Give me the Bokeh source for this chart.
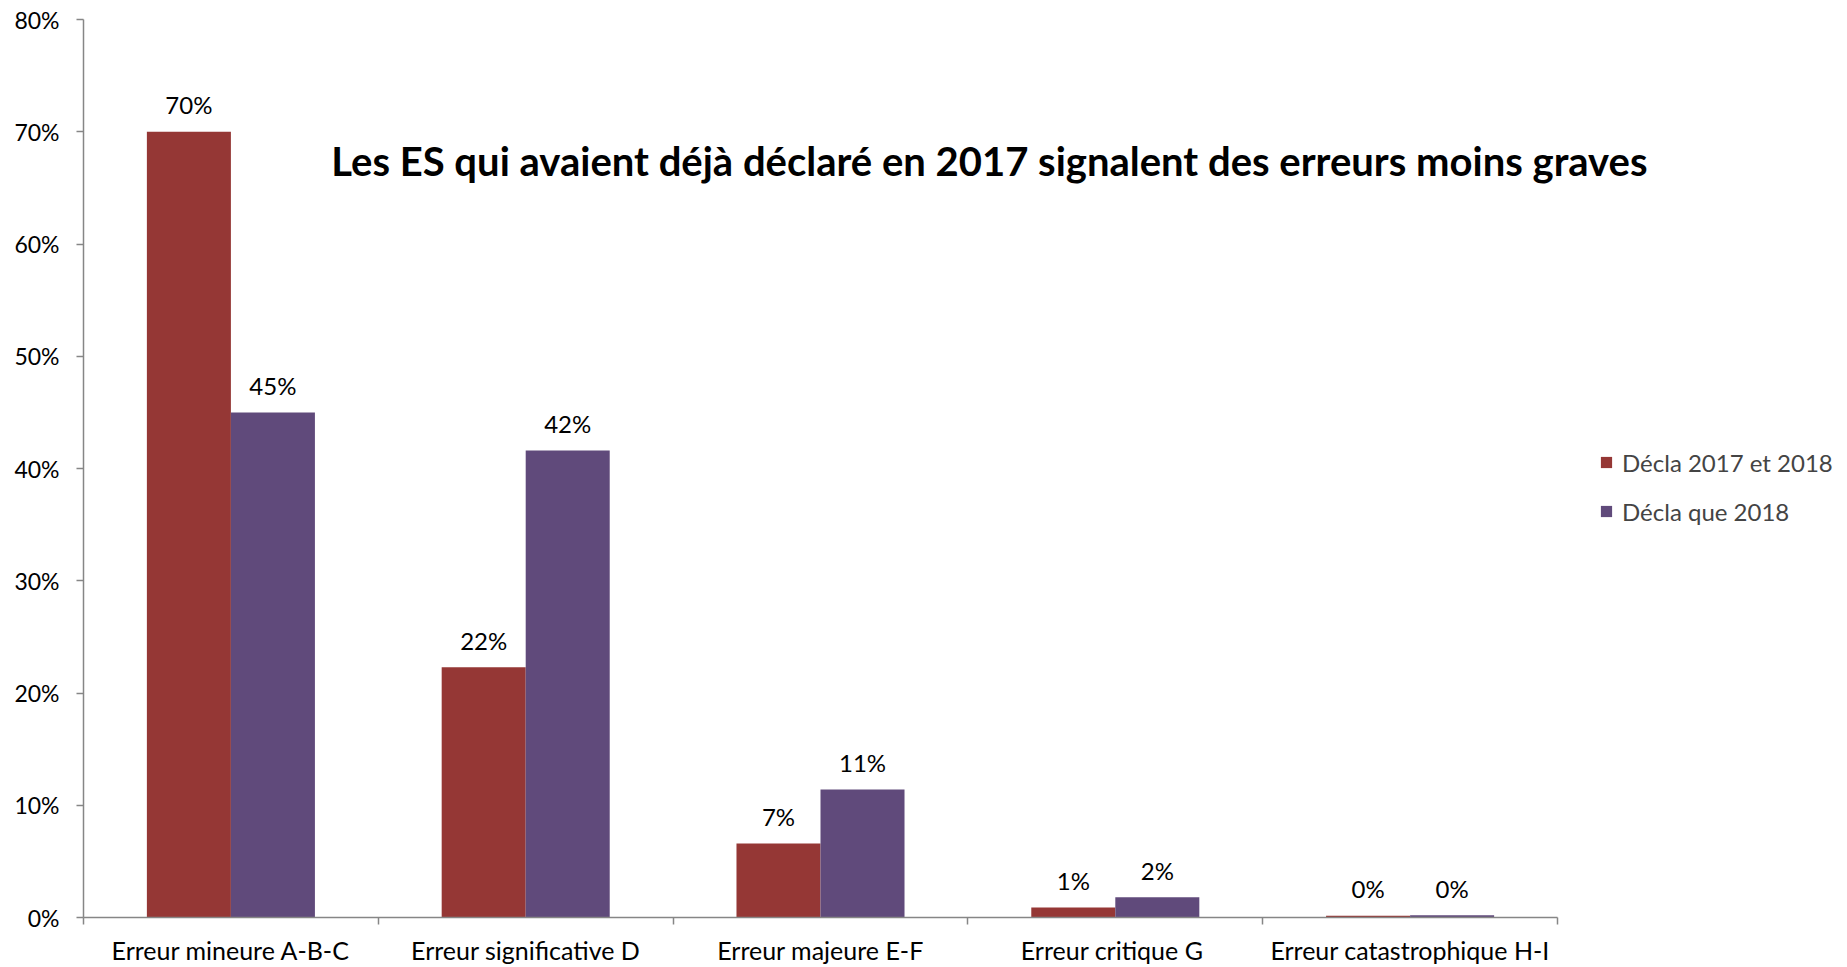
from bokeh.plotting import figure
from bokeh.models import Range1d, FixedTicker, PrintfTickFormatter, Label, Legend, LegendItem, ColumnDataSource
from bokeh.transform import dodge
from bokeh.embed import file_html
from bokeh.resources import INLINE
from bokeh.core.properties import value

categories = ["Erreur mineure A-B-C", "Erreur significative D", "Erreur majeure E-F",
              "Erreur critique  G", "Erreur catastrophique H-I"]
series_names = ["Décla 2017 et 2018", "Décla que 2018"]
decla_2017_et_2018 = [70.0, 22.3, 6.6, 0.9, 0.15]
decla_que_2018 = [45.0, 41.6, 11.4, 1.8, 0.2]
y_ticks = [0, 10, 20, 30, 40, 50, 60, 70, 80]
title_text = "Les ES qui avaient déjà déclaré en 2017 signalent des erreurs moins graves"

RED = "#953735"
PURPLE = "#604A7B"
AXIS = "#868686"
FONT = "Lato"

W, H = 1847, 967
LEFT, TOP, BOTTOM = 83, 19, 48
CAT_PX = 294.8  # width of one category band in pixels
n = len(categories)
x_end = (W - LEFT - 1) / CAT_PX  # frame extends right so the legend is not clipped

xs = [i + 0.5 for i in range(n)]
src = ColumnDataSource(dict(
    x=xs,
    a=decla_2017_et_2018,
    b=decla_que_2018,
    a_lbl=[f"{round(v)}%" for v in decla_2017_et_2018],
    b_lbl=[f"{round(v)}%" for v in decla_que_2018],
))

p = figure(width=W, height=H, x_range=Range1d(0, x_end), y_range=Range1d(0, 80),
           output_backend="svg", toolbar_location=None,
           min_border_left=LEFT, min_border_right=1, min_border_top=TOP, min_border_bottom=BOTTOM)
p.xgrid.visible = False
p.ygrid.visible = False
p.outline_line_color = None
p.background_fill_color = "white"
p.border_fill_color = "white"

bw = 0.285
off = 0.1425
r1 = p.vbar(x=dodge("x", -off, range=p.x_range), top="a", width=bw, bottom=0, source=src,
            fill_color=RED, line_color=None)
r2 = p.vbar(x=dodge("x", off, range=p.x_range), top="b", width=bw, bottom=0, source=src,
            fill_color=PURPLE, line_color=None)

for col, lbl, o in (("a", "a_lbl", -off), ("b", "b_lbl", off)):
    p.text(x=dodge("x", o, range=p.x_range), y=col, text=lbl, source=src,
           text_align="center", text_baseline="alphabetic", y_offset=-27,
           text_font=value(FONT), text_font_size="24px", text_color="black")

# axes
p.yaxis.ticker = FixedTicker(ticks=y_ticks)
p.yaxis.formatter = PrintfTickFormatter(format="%d%%")
p.yaxis.axis_line_color = AXIS
p.yaxis.axis_line_width = 1.5
p.yaxis.major_tick_line_color = AXIS
p.yaxis.major_tick_line_width = 1.5
p.yaxis.major_tick_in = 0
p.yaxis.major_tick_out = 7
p.yaxis.minor_tick_line_color = None
p.yaxis.major_label_standoff = 17
p.yaxis.major_label_text_font = FONT
p.yaxis.major_label_text_font_size = "23px"
p.yaxis.major_label_text_color = "black"

p.xaxis.bounds = (0, n)
p.xaxis.ticker = FixedTicker(ticks=xs, minor_ticks=list(range(n + 1)))
p.xaxis.major_label_overrides = {x: c for x, c in zip(xs, categories)}
p.xaxis.axis_line_color = AXIS
p.xaxis.axis_line_width = 1.5
p.xaxis.major_tick_line_color = None
p.xaxis.major_tick_in = 0
p.xaxis.major_tick_out = 0
p.xaxis.minor_tick_line_color = AXIS
p.xaxis.minor_tick_line_width = 1.5
p.xaxis.minor_tick_in = 0
p.xaxis.minor_tick_out = 7
p.xaxis.major_label_standoff = 10
p.xaxis.major_label_text_font = FONT
p.xaxis.major_label_text_font_size = "25px"
p.xaxis.major_label_text_color = "black"

# title
p.add_layout(Label(x=3.073, y=67.35, text=title_text, text_align="center", text_baseline="alphabetic",
                   text_font=FONT, text_font_style="bold", text_font_size="40px", text_color="black"))

legend = Legend(items=[LegendItem(label=series_names[0], renderers=[r1]),
                       LegendItem(label=series_names[1], renderers=[r2])],
                location=(1516, 391), orientation="vertical",
                glyph_width=14, glyph_height=14, label_standoff=9,
                label_text_font=FONT, label_text_font_size="24px", label_height=30,
                spacing=19, padding=0, margin=0,
                border_line_color=None, background_fill_alpha=0)
p.add_layout(legend)

open("out.html", "w").write(file_html(p, INLINE))
